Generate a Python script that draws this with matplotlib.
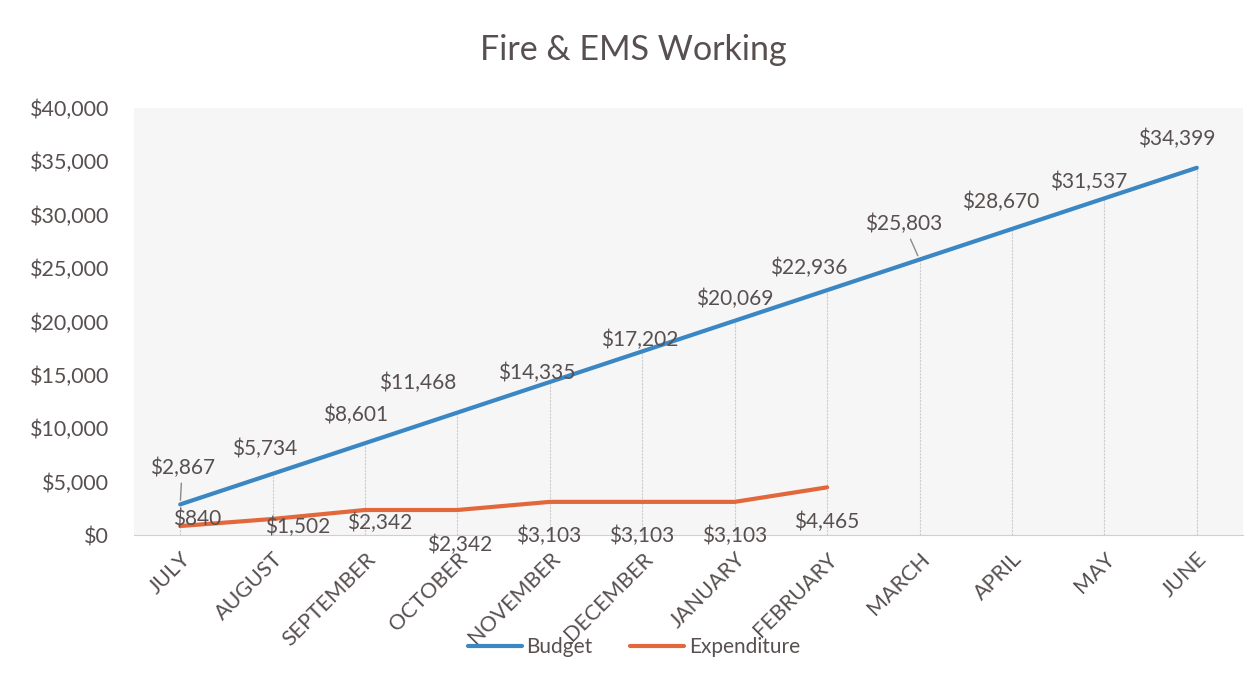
import matplotlib.pyplot as plt
from matplotlib.ticker import FuncFormatter

months = ["JULY", "AUGUST", "SEPTEMBER", "OCTOBER", "NOVEMBER", "DECEMBER",
          "JANUARY", "FEBRUARY", "MARCH", "APRIL", "MAY", "JUNE"]
budget = [2867, 5734, 8601, 11468, 14335, 17202, 20069, 22936, 25803,
          28670, 31537, 34399]
expenditure = [840, 1502, 2342, 2342, 3103, 3103, 3103, 4465]

# label offsets in pixels (dx, dy) from each point
budget_offsets = [(2, 37), (-8, 25), (-9, 28), (-40, 30), (-13, 9), (-3, 11),
                  (0, 22), (-18, 22), (-16, 36), (-11, 27), (-16, 16), (-20, 29)]
exp_offsets = [(17, 7), (25, -8), (15, -13), (2, -35), (-1, -34), (-1, -34),
               (0, -34), (0, -35)]
# labels that got a leader line in the original
leader = [0, 8]

text_col = "#585050"
blue = "#3a87c4"
orange = "#e2683c"

plt.rcParams["font.family"] = ["Lato", "DejaVu Sans"]

fig = plt.figure(figsize=(12.53, 6.83), dpi=100)
ax = fig.add_axes([134 / 1253, 1 - 535 / 683, (1243 - 134) / 1253, (535 - 108) / 683])
ax.set_facecolor("#f6f6f6")

x = list(range(len(months)))
ax.plot(x, budget, color=blue, lw=3, label="Budget", solid_capstyle="round")
ax.plot(x[:len(expenditure)], expenditure, color=orange, lw=3,
        label="Expenditure", solid_capstyle="round")

for xi, v in zip(x, budget):
    ax.axvline(xi, ymax=v / 40000, color="#cccccc", lw=0.8, ls=(0, (2, 1)), zorder=0)

for i, (xi, v, (dx, dy)) in enumerate(zip(x, budget, budget_offsets)):
    arrow = None
    if i in leader:
        arrow = dict(arrowstyle="-", color="#8a8a8a", lw=1, shrinkA=2, shrinkB=3)
    ax.annotate(f"${v:,}", (xi, v), xytext=(dx * 0.72, dy * 0.72),
                textcoords="offset points", ha="center", va="center",
                fontsize=15, color=text_col, arrowprops=arrow)
for xi, v, (dx, dy) in zip(x, expenditure, exp_offsets):
    ax.annotate(f"${v:,}", (xi, v), xytext=(dx * 0.72, dy * 0.72),
                textcoords="offset points", ha="center", va="center",
                fontsize=15, color=text_col)

ax.set_xlim(-0.5, len(months) - 0.5)
ax.set_ylim(0, 40000)
ax.set_yticks(range(0, 40001, 5000))
ax.yaxis.set_major_formatter(FuncFormatter(lambda v, p: f"${int(v):,}"))
ax.set_xticks(x)
ax.set_xticklabels(months, rotation=45, ha="right", rotation_mode="anchor")
ax.tick_params(axis="y", length=0, colors=text_col, labelsize=15.5, pad=18)
ax.tick_params(axis="x", length=0, colors=text_col, labelsize=15.5, pad=10)

for s in ["top", "right", "left"]:
    ax.spines[s].set_visible(False)
ax.spines["bottom"].set_color("#d0d0d0")

fig.text(633 / 1253, 1 - 50 / 683, "Fire & EMS Working", ha="center", va="center",
         fontsize=24.5, color=text_col)

leg = fig.legend(loc="center", bbox_to_anchor=(634 / 1253, 1 - 647 / 683), ncol=2,
                 frameon=False, fontsize=15, handlelength=2.6, columnspacing=1.8,
                 handletextpad=0.2)
for t in leg.get_texts():
    t.set_color(text_col)

fig.savefig("out.png", dpi=100, facecolor="white")
